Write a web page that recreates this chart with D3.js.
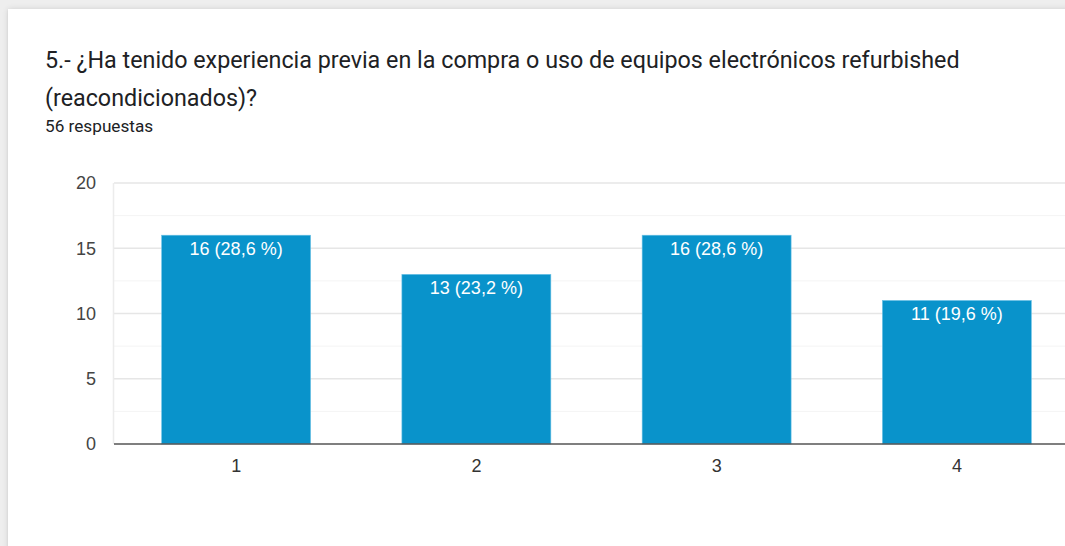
<!DOCTYPE html>
<html>
<head>
<meta charset="utf-8">
<script src="https://cdn.jsdelivr.net/npm/d3@7"></script>
<style>
  html, body { margin: 0; padding: 0; background: #eeeeee; overflow: hidden; }
  #card {
    position: absolute; left: 8px; top: 9px; width: 1100px; height: 600px;
    background: #ffffff;
    box-shadow: 0 0 6px rgba(0,0,0,0.12), 0 1px 2px rgba(0,0,0,0.08);
  }
  svg { position: absolute; left: 0; top: 0; }
  .head { font-family: Roboto, "Noto Sans", sans-serif; }
</style>
</head>
<body>
<div id="card"></div>
<svg id="chart" width="1065" height="546"></svg>
<script>
// Survey question, answer categories and response counts
const titleLines = [
  "5.- ¿Ha tenido experiencia previa en la compra o uso de equipos electrónicos refurbished",
  "(reacondicionados)?"
];
const subtitle = "56 respuestas";
const categories = ["1", "2", "3", "4"];
const counts = [16, 13, 16, 11];
const percentLabels = ["28,6 %", "23,2 %", "28,6 %", "19,6 %"];
const yTicks = [0, 5, 10, 15, 20];
const yMinorTicks = [2.5, 7.5, 12.5, 17.5];

const svg = d3.select("#chart");
const chartFont = "'Liberation Sans', Arial, sans-serif";

// Heading
svg.selectAll("text.title")
  .data(titleLines)
  .join("text")
  .attr("class", "title head")
  .attr("x", 45)
  .attr("y", (d, i) => 68 + i * 38)
  .attr("fill", "#202124")
  .style("font-size", "23.3px")
  .text(d => d);

svg.append("text")
  .attr("class", "head")
  .attr("x", 45)
  .attr("y", 132)
  .attr("fill", "#202124")
  .style("font-size", "17.2px")
  .text(subtitle);

// Scales
const x = d3.scaleBand()
  .domain(categories)
  .range([116, 1077])
  .paddingInner(0.38)
  .paddingOuter(0.19);

const y = d3.scaleLinear()
  .domain([0, 20])
  .range([444, 183]);

// Minor and major gridlines
svg.append("g")
  .selectAll("line")
  .data(yMinorTicks)
  .join("line")
  .attr("x1", 114).attr("x2", 1077)
  .attr("y1", d => y(d)).attr("y2", d => y(d))
  .attr("stroke", "#f4f4f4")
  .attr("stroke-width", 1);

svg.append("g")
  .selectAll("line")
  .data(yTicks.filter(d => d !== 0))
  .join("line")
  .attr("x1", 114).attr("x2", 1077)
  .attr("y1", d => y(d)).attr("y2", d => y(d))
  .attr("stroke", "#e6e6e6")
  .attr("stroke-width", 1.5);

// Left edge of the plot area
svg.append("line")
  .attr("x1", 113.5).attr("x2", 113.5)
  .attr("y1", y(20)).attr("y2", y(0))
  .attr("stroke", "#ececec")
  .attr("stroke-width", 1.5);

// Y axis labels
const yAxis = d3.axisLeft(y).tickValues(yTicks).tickSize(0).tickPadding(18);
const gy = svg.append("g").attr("transform", "translate(114,0)").call(yAxis);
gy.select(".domain").remove();
gy.selectAll("text")
  .attr("fill", "#444444")
  .style("font-size", "18px")
  .style("font-family", chartFont);

// Bars
svg.append("g")
  .selectAll("rect")
  .data(counts)
  .join("rect")
  .attr("x", (d, i) => x(categories[i]))
  .attr("y", d => y(d))
  .attr("width", x.bandwidth())
  .attr("height", d => y(0) - y(d))
  .attr("fill", "#0993cb")
  .attr("stroke", "#6cc2e6")
  .attr("stroke-width", 0.6);

// Value labels inside bars
svg.append("g")
  .selectAll("text")
  .data(counts)
  .join("text")
  .attr("x", (d, i) => x(categories[i]) + x.bandwidth() / 2)
  .attr("y", d => y(d) + 19.5)
  .attr("text-anchor", "middle")
  .attr("fill", "#ffffff")
  .style("font-size", "18px")
  .style("font-family", chartFont)
  .text((d, i) => `${d} (${percentLabels[i]})`);

// Baseline
svg.append("line")
  .attr("x1", 114).attr("x2", 1077)
  .attr("y1", y(0)).attr("y2", y(0))
  .attr("stroke", "#555555")
  .attr("stroke-width", 1.5);

// X axis labels
const xAxis = d3.axisBottom(x).tickSize(0).tickPadding(15);
const gx = svg.append("g").attr("transform", `translate(0,${y(0)})`).call(xAxis);
gx.select(".domain").remove();
gx.selectAll("text")
  .attr("fill", "#333333")
  .style("font-size", "18px")
  .style("font-family", chartFont);
</script>
</body>
</html>
